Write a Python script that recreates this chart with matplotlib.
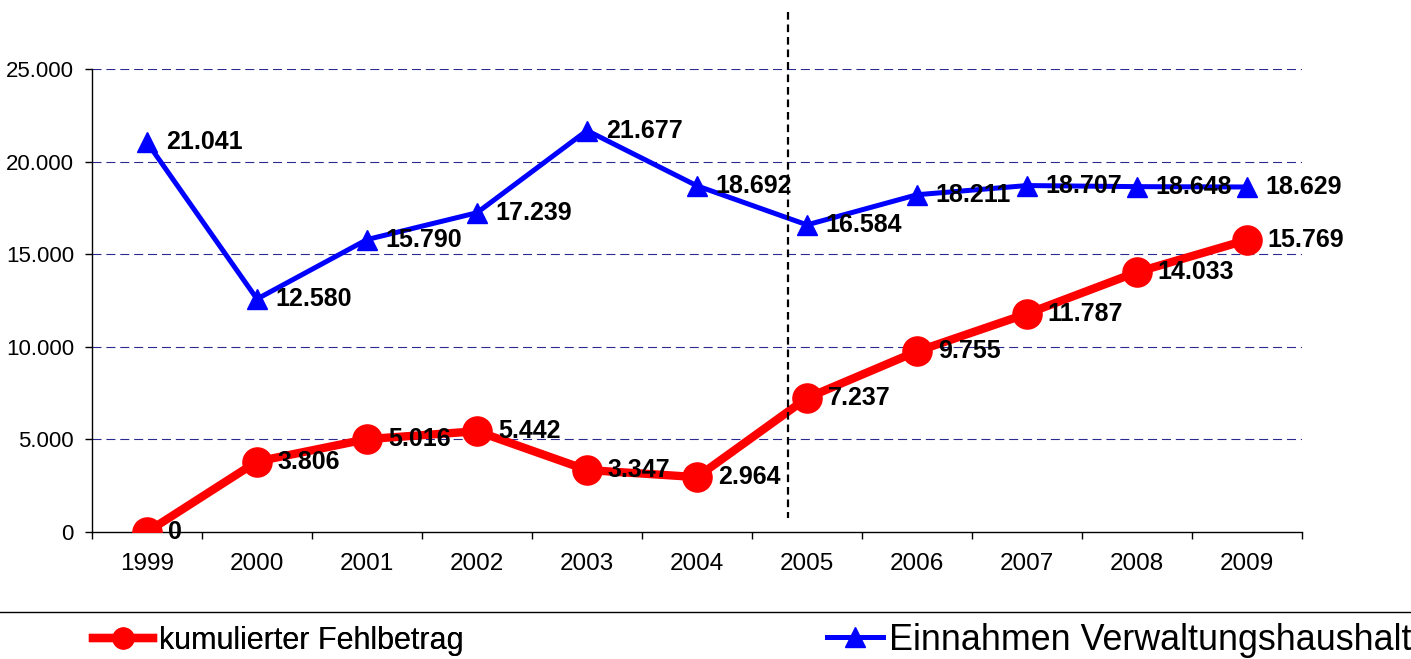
import numpy as np
import matplotlib
matplotlib.use("Agg")
import matplotlib.pyplot as plt
from matplotlib.lines import Line2D

plt.rcParams['font.family'] = ['Liberation Sans', 'DejaVu Sans']
plt.rcParams['lines.scale_dashes'] = False

years = ["1999", "2000", "2001", "2002", "2003", "2004",
         "2005", "2006", "2007", "2008", "2009"]
fehlbetrag = [0, 3806, 5016, 5442, 3347, 2964, 7237, 9755, 11787, 14033, 15769]
einnahmen = [21041, 12580, 15790, 17239, 21677, 18692, 16584, 18211, 18707, 18648, 18629]
yticks = [0, 5000, 10000, 15000, 20000, 25000]


def de_fmt(v):
    return f"{v:,.0f}".replace(",", ".")


fig = plt.figure(figsize=(14.11, 6.59), dpi=100)
ax = fig.add_axes([92 / 1411, 1 - 532 / 659, 1210 / 1411, 463 / 659])

x = np.arange(len(years))

# dashed grid lines
for yv in yticks[1:]:
    ax.axhline(yv, color="#2a2a90", lw=0.8, dashes=(6.5, 3.5), zorder=1)

ax.plot(x, einnahmen, color="#0000ff", lw=3.6, marker="^", markersize=15,
        zorder=3, label="Einnahmen Verwaltungshaushalt")
ax.plot(x, fehlbetrag, color="#ff0000", lw=6, marker="o", markersize=21,
        zorder=3, label="kumulierter Fehlbetrag")

for xi, v in zip(x, einnahmen):
    ax.annotate(de_fmt(v), (xi, v), xytext=(13.5, 0), textcoords="offset points",
                va="center", ha="left", fontsize=18, fontweight="bold", zorder=5)
for xi, v in zip(x, fehlbetrag):
    ax.annotate(de_fmt(v), (xi, v), xytext=(15, 0), textcoords="offset points",
                va="center", ha="left", fontsize=18, fontweight="bold", zorder=5,
                annotation_clip=False)

ax.set_xlim(-0.5, len(years) - 0.5)
ax.set_ylim(0, 25000)
ax.set_yticks(yticks)
ax.set_yticklabels([de_fmt(v) for v in yticks], fontsize=16)
ax.set_xticks(x)
ax.set_xticklabels(years, fontsize=17.5)
ax.tick_params(axis="x", length=0, pad=15)
ax.set_xticks(np.arange(-0.5, len(years)), minor=True)
ax.tick_params(axis="x", which="minor", length=5, width=1, direction="out")
ax.tick_params(axis="y", length=5, width=1, pad=8)
for s in ["top", "right"]:
    ax.spines[s].set_visible(False)
for s in ["left", "bottom"]:
    ax.spines[s].set_linewidth(1)
ax.spines["bottom"].set_zorder(2)

# vertical separator between 2004 and 2005
fig.add_artist(Line2D([788 / 1411, 788 / 1411], [1 - 12 / 659, 1 - 518 / 659],
                      color="black", lw=1.6, dashes=(5.5, 3.5), zorder=2))

# legend separator line
fig.add_artist(Line2D([0, 1], [1 - 612 / 659, 1 - 612 / 659], color="black", lw=1))

h_red = Line2D([], [], color="#ff0000", lw=6, marker="o", markersize=15)
h_blue = Line2D([], [], color="#0000ff", lw=3.6, marker="^", markersize=14)
leg1 = fig.legend([h_red], ["kumulierter Fehlbetrag"], loc="center left",
                  bbox_to_anchor=(93 / 1411, 1 - 641 / 659), frameon=False,
                  fontsize=22, handlelength=1.95, handletextpad=0.2,
                  borderpad=0, borderaxespad=0)
leg2 = fig.legend([h_blue], ["Einnahmen Verwaltungshaushalt"], loc="center left",
                  bbox_to_anchor=(827 / 1411, 1 - 640 / 659), frameon=False,
                  fontsize=25.8, handlelength=1.55, handletextpad=0.17,
                  borderpad=0, borderaxespad=0)
fig.add_artist(leg1)

fig.savefig("out.png", dpi=100)
